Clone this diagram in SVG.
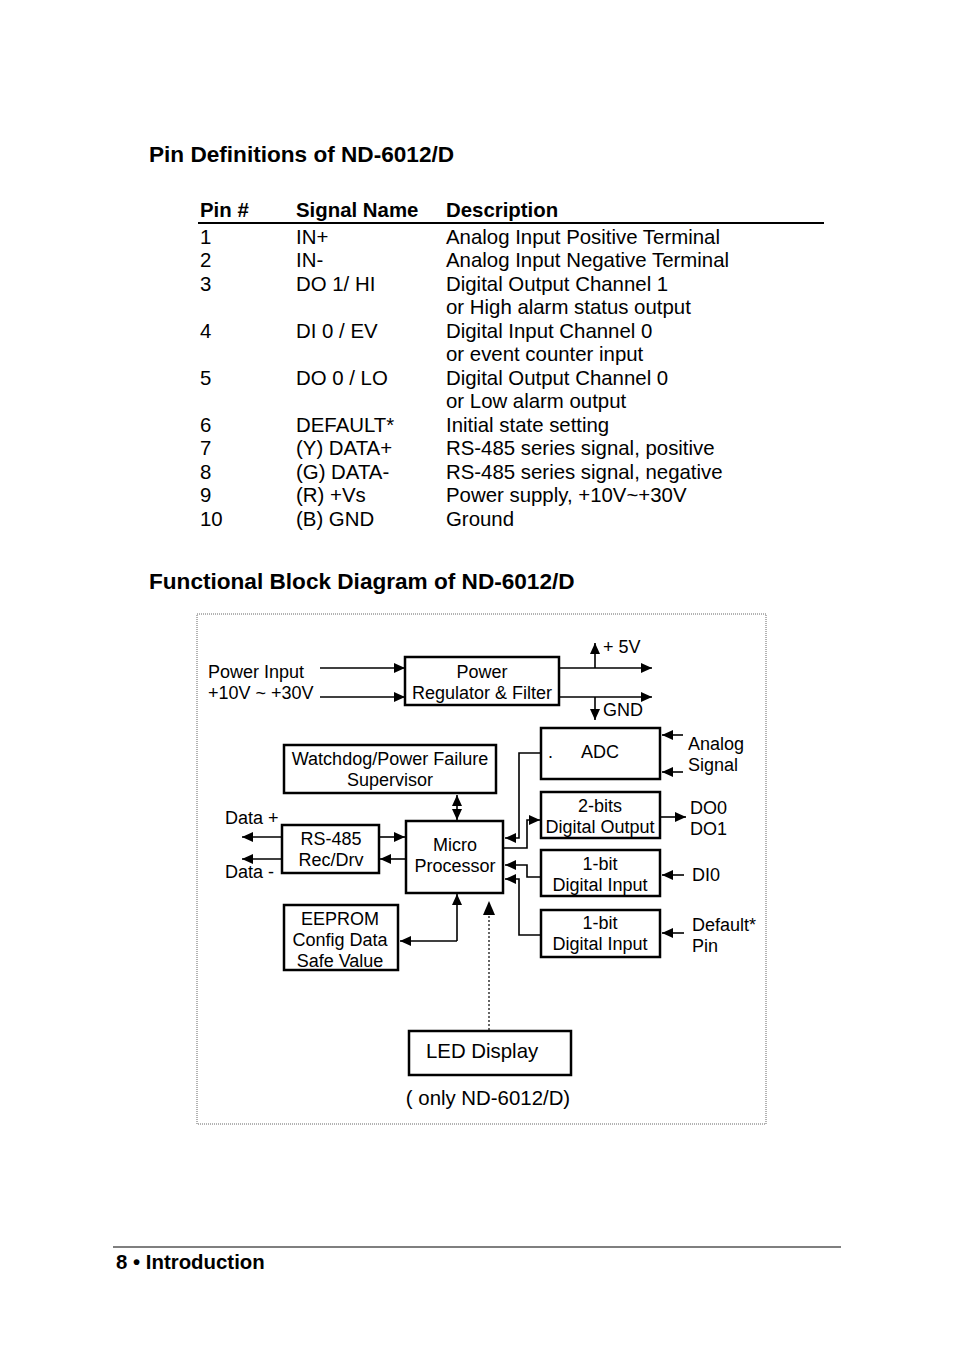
<svg xmlns="http://www.w3.org/2000/svg" width="954" height="1352" viewBox="0 0 954 1352">
<defs>
<marker id="ah" markerUnits="userSpaceOnUse" markerWidth="12" markerHeight="10" refX="11" refY="5" orient="auto-start-reverse">
<path d="M0,0 L11,5 L0,10 z" fill="#000"/>
</marker>
</defs>
<style>
.h{font-family:"Liberation Sans",Arial,sans-serif;font-weight:bold;font-size:22.6px;fill:#000}
.th{font-family:"Liberation Sans",Arial,sans-serif;font-weight:bold;font-size:20.4px;fill:#000}
.t{font-family:"Liberation Sans",Arial,sans-serif;font-size:20.4px;fill:#000}
.d{font-family:"Liberation Sans",Arial,sans-serif;font-size:18px;fill:#000}
.c{text-anchor:middle}
.box{fill:#fff;stroke:#000;stroke-width:2.5}
.ln{fill:none;stroke:#000;stroke-width:1.6}
.arr{fill:none;stroke:#000;stroke-width:1.6;marker-end:url(#ah)}
</style>
<rect width="954" height="1352" fill="#fff"/>

<g id="pin-table">
<text class="h" x="149" y="162">Pin Definitions of ND-6012/D</text>
<text class="th" x="200" y="217">Pin #</text>
<text class="th" x="296" y="217">Signal Name</text>
<text class="th" x="446" y="217">Description</text>
<line x1="198" y1="223" x2="824" y2="223" stroke="#000" stroke-width="2.2"/>
<g class="t">
<text x="200" y="244">1</text><text x="296" y="244">IN+</text><text x="446" y="244">Analog Input Positive Terminal</text>
<text x="200" y="267">2</text><text x="296" y="267">IN-</text><text x="446" y="267">Analog Input Negative Terminal</text>
<text x="200" y="291">3</text><text x="296" y="291">DO 1/ HI</text><text x="446" y="291">Digital Output Channel 1</text>
<text x="446" y="314">or High alarm status output</text>
<text x="200" y="338">4</text><text x="296" y="338">DI 0 / EV</text><text x="446" y="338">Digital Input Channel 0</text>
<text x="446" y="361">or event counter input</text>
<text x="200" y="385">5</text><text x="296" y="385">DO 0 / LO</text><text x="446" y="385">Digital Output Channel 0</text>
<text x="446" y="408">or Low alarm output</text>
<text x="200" y="432">6</text><text x="296" y="432">DEFAULT*</text><text x="446" y="432">Initial state setting</text>
<text x="200" y="455">7</text><text x="296" y="455">(Y) DATA+</text><text x="446" y="455">RS-485 series signal, positive</text>
<text x="200" y="479">8</text><text x="296" y="479">(G) DATA-</text><text x="446" y="479">RS-485 series signal, negative</text>
<text x="200" y="502">9</text><text x="296" y="502">(R) +Vs</text><text x="446" y="502">Power supply, +10V~+30V</text>
<text x="200" y="526">10</text><text x="296" y="526">(B) GND</text><text x="446" y="526">Ground</text>
</g>
</g>

<text class="h" x="149" y="589">Functional Block Diagram of ND-6012/D</text>

<rect x="197" y="614" width="569" height="510" fill="none" stroke="#666" stroke-width="1" stroke-dasharray="1,1"/>

<g id="connectors">
<line class="arr" x1="320" y1="668" x2="405" y2="668"/>
<line class="arr" x1="320" y1="697" x2="405" y2="697"/>
<line class="arr" x1="559" y1="668" x2="652" y2="668"/>
<line class="arr" x1="559" y1="697" x2="652" y2="697"/>
<line class="arr" x1="595" y1="668" x2="595" y2="643"/>
<line class="arr" x1="595" y1="697" x2="595" y2="720"/>
<line class="arr" x1="683" y1="735" x2="662" y2="735"/>
<line class="arr" x1="683" y1="772" x2="662" y2="772"/>
<line class="arr" x1="660" y1="817" x2="686" y2="817"/>
<line class="arr" x1="684" y1="875" x2="662" y2="875"/>
<line class="arr" x1="684" y1="933" x2="662" y2="933"/>
<polyline class="arr" points="541,753 519,753 519,838 505,838"/>
<polyline class="arr" points="503,848 527,848 527,820 540,820"/>
<polyline class="arr" points="541,877 527,877 527,865 505,865"/>
<polyline class="arr" points="541,935 519,935 519,879 505,879"/>
<line class="arr" x1="457" y1="795" x2="457" y2="820" style="marker-start:url(#ah)"/>
<line class="arr" x1="379" y1="837" x2="405" y2="837"/>
<line class="arr" x1="406" y1="859" x2="380" y2="859"/>
<line class="arr" x1="282" y1="837" x2="242" y2="837"/>
<line class="arr" x1="282" y1="859" x2="242" y2="859"/>
<polyline class="arr" points="457,941 400,941"/>
<line class="arr" x1="457" y1="941" x2="457" y2="894"/>
<line x1="489" y1="1030" x2="489" y2="912" stroke="#000" stroke-width="1.2" stroke-dasharray="2,2"/>
<path d="M483,915 L489,901 L495,915 z" fill="#000"/>
</g>

<g id="power-input-label">
<text class="d" x="208" y="678">Power Input</text>
<text class="d" x="208" y="699">+10V ~ +30V</text>
</g>
<g id="power-regulator">
<rect class="box" x="405" y="657" width="154" height="48"/>
<text class="d c" x="482" y="678">Power</text>
<text class="d c" x="482" y="699">Regulator &amp; Filter</text>
</g>
<g id="power-outputs">
<text class="d" x="603" y="653">+ 5V</text>
<text class="d" x="603" y="716">GND</text>
</g>
<g id="watchdog">
<rect class="box" x="284" y="745" width="212" height="48"/>
<text class="d c" x="390" y="765">Watchdog/Power Failure</text>
<text class="d c" x="390" y="786">Supervisor</text>
</g>
<g id="adc">
<rect class="box" x="541" y="728" width="119" height="51"/>
<text class="d" x="548" y="758">.</text>
<text class="d c" x="600" y="758">ADC</text>
</g>
<g id="analog-signal">
<text class="d" x="688" y="750">Analog</text>
<text class="d" x="688" y="771">Signal</text>
</g>
<g id="digital-output">
<rect class="box" x="541" y="792" width="119" height="46"/>
<text class="d c" x="600" y="812">2-bits</text>
<text class="d c" x="600" y="833">Digital Output</text>
</g>
<g id="do-labels">
<text class="d" x="690" y="814">DO0</text>
<text class="d" x="690" y="835">DO1</text>
</g>
<g id="digital-input-1">
<rect class="box" x="541" y="850" width="119" height="46"/>
<text class="d c" x="600" y="870">1-bit</text>
<text class="d c" x="600" y="891">Digital Input</text>
</g>
<text class="d" x="692" y="881">DI0</text>
<g id="digital-input-2">
<rect class="box" x="541" y="910" width="119" height="47"/>
<text class="d c" x="600" y="929">1-bit</text>
<text class="d c" x="600" y="950">Digital Input</text>
</g>
<g id="default-pin">
<text class="d" x="692" y="931">Default*</text>
<text class="d" x="692" y="952">Pin</text>
</g>
<g id="rs485">
<rect class="box" x="282" y="825" width="97" height="48"/>
<text class="d c" x="331" y="845">RS-485</text>
<text class="d c" x="331" y="866">Rec/Drv</text>
</g>
<g id="data-labels">
<text class="d" x="225" y="824">Data +</text>
<text class="d" x="225" y="878">Data -</text>
</g>
<g id="micro-processor">
<rect class="box" x="406" y="821" width="97" height="72"/>
<text class="d c" x="455" y="851">Micro</text>
<text class="d c" x="455" y="872">Processor</text>
</g>
<g id="eeprom">
<rect class="box" x="284" y="905" width="114" height="65"/>
<text class="d c" x="340" y="925">EEPROM</text>
<text class="d c" x="340" y="946">Config Data</text>
<text class="d c" x="340" y="967">Safe Value</text>
</g>
<g id="led-display">
<rect class="box" x="409" y="1031" width="162" height="44" stroke-width="2"/>
<text class="t" x="426" y="1058">LED Display</text>
</g>
<text class="t c" x="488" y="1105">( only ND-6012/D)</text>

<g id="footer">
<line x1="113" y1="1247" x2="841" y2="1247" stroke="#000" stroke-width="1.2"/>
<text class="th" x="116" y="1269">8 • Introduction</text>
</g>
</svg>
